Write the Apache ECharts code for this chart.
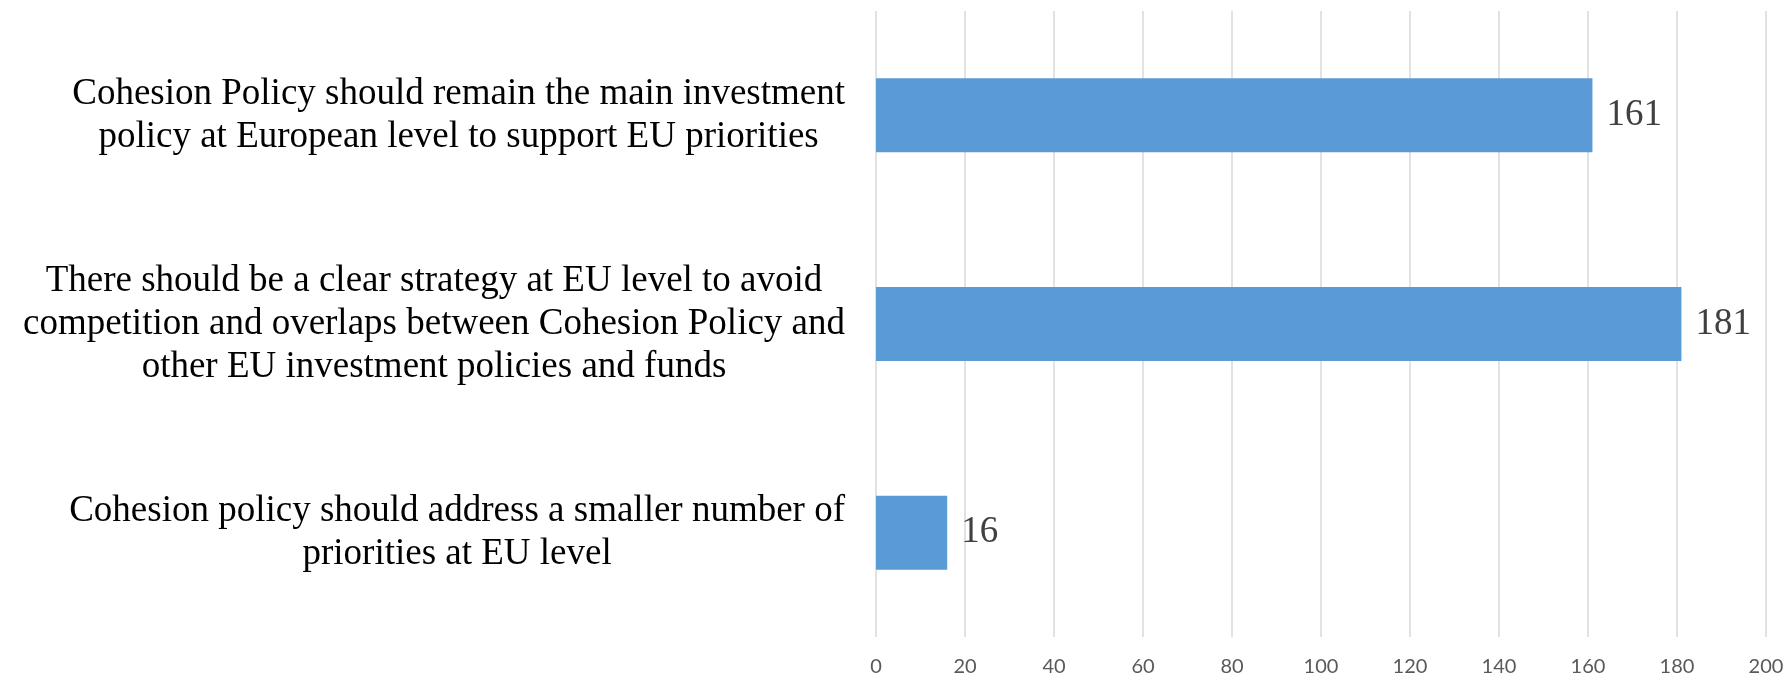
<!DOCTYPE html>
<html>
<head>
<meta charset="utf-8">
<script src="https://cdn.jsdelivr.net/npm/echarts@6/dist/echarts.min.js"></script>
<style>
  html, body { margin: 0; padding: 0; background: #fff; }
  #chart { width: 1790px; height: 677px; }
</style>
</head>
<body>
<div id="chart"></div>
<script>
// Statements (top to bottom), each split into its display lines
const categories = [
  ['Cohesion Policy should remain the main investment', 'policy at European level to support EU priorities'],
  ['There should be a clear strategy at EU level to avoid', 'competition and overlaps between Cohesion Policy and', 'other EU investment policies and funds'],
  ['Cohesion policy should address a smaller number of', 'priorities at EU level']
];
// Number of responses per statement
const responses = [161, 181, 16];
// Value axis ticks
const tickValues = [0, 20, 40, 60, 80, 100, 120, 140, 160, 180, 200];

const chart = echarts.init(document.getElementById('chart'));
chart.setOption({
  animation: false,
  grid: { left: 876, right: 24, top: 11, bottom: 40, containLabel: false },
  xAxis: {
    type: 'value',
    min: tickValues[0],
    max: tickValues[tickValues.length - 1],
    interval: tickValues[1] - tickValues[0],
    axisLine: { show: false },
    axisTick: { show: false },
    splitLine: { lineStyle: { color: '#d9d9d9', width: 1.5 } },
    axisLabel: {
      margin: 20,
      color: '#595959',
      fontFamily: 'Lato, "Open Sans", sans-serif',
      fontSize: 20
    }
  },
  yAxis: {
    type: 'category',
    inverse: true,
    data: categories.map(lines => lines.join('\n')),
    axisLine: { show: false },
    axisTick: { show: false },
    axisLabel: {
      margin: 31,
      align: 'right',
      formatter: v => v.split('\n').map(l => '{c|' + l + '}').join('\n'),
      rich: {
        c: {
          align: 'center',
          color: '#000',
          fontFamily: '"Liberation Serif", "Times New Roman", serif',
          fontSize: 37,
          lineHeight: 43
        }
      }
    }
  },
  series: [{
    type: 'bar',
    data: responses,
    barWidth: 74,
    itemStyle: { color: '#5b9bd5' },
    label: {
      show: true,
      position: 'right',
      distance: 14,
      color: '#404040',
      fontFamily: '"Liberation Serif", "Times New Roman", serif',
      fontSize: 37
    }
  }]
});
</script>
</body>
</html>
